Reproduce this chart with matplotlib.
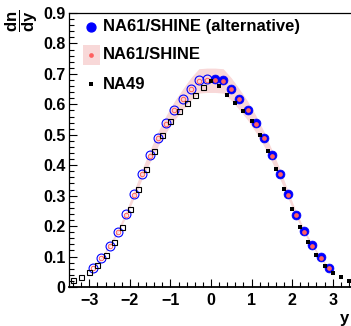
import matplotlib
matplotlib.use("Agg")
import matplotlib.pyplot as plt
from matplotlib.patches import Rectangle
from matplotlib.ticker import MultipleLocator

plt.rcParams['font.family'] = ['Liberation Sans', 'DejaVu Sans']
plt.rcParams['font.weight'] = 'bold'
plt.rcParams['mathtext.fontset'] = 'custom'
plt.rcParams['mathtext.rm'] = 'Liberation Sans:bold'
plt.rcParams['mathtext.it'] = 'Liberation Sans:bold'
plt.rcParams['mathtext.bf'] = 'Liberation Sans:bold'

# NA61/SHINE (alternative) - measured (y > 0) and reflected (y < 0)
alt_x = [0.1, 0.3, 0.5, 0.7, 0.9, 1.1, 1.3, 1.5, 1.7, 1.9, 2.1, 2.3, 2.5, 2.7, 2.9]
alt_y = [0.683, 0.679, 0.652, 0.617, 0.582, 0.538, 0.489, 0.432, 0.372, 0.304,
         0.238, 0.183, 0.137, 0.097, 0.063]
alt_refl_x = [-0.1, -0.3, -0.5, -0.7, -0.9, -1.1, -1.3, -1.5, -1.7, -1.9, -2.1, -2.3, -2.5, -2.7, -2.9]
alt_refl_y = [0.683, 0.679, 0.651, 0.617, 0.582, 0.538, 0.490, 0.432, 0.371, 0.305,
              0.239, 0.182, 0.136, 0.095, 0.063]

# NA61/SHINE (standard) with systematic band
std_x = alt_x
std_y = [0.679, 0.677, 0.650, 0.616, 0.580, 0.537, 0.488, 0.431, 0.371, 0.303,
         0.238, 0.182, 0.136, 0.096, 0.062]
std_refl_x = alt_refl_x
std_refl_y = [0.679, 0.677, 0.650, 0.616, 0.580, 0.537, 0.488, 0.431, 0.371, 0.303,
              0.238, 0.182, 0.136, 0.096, 0.062]
std_sys = [0.040, 0.040, 0.037, 0.034, 0.031, 0.028, 0.024, 0.020, 0.016, 0.012,
           0.009, 0.007, 0.005, 0.004, 0.003]

# NA49
na49_x = [0.0, 0.2, 0.4, 0.6, 0.8, 1.0, 1.2, 1.4, 1.6, 1.8, 2.0, 2.2, 2.4, 2.6, 2.8, 3.0, 3.2, 3.4]
na49_y = [0.675, 0.659, 0.632, 0.606, 0.579, 0.544, 0.500, 0.447, 0.388, 0.321,
          0.256, 0.198, 0.149, 0.105, 0.070, 0.047, 0.032, 0.021]
na49_refl_x = [-0.2, -0.4, -0.6, -0.8, -1.0, -1.2, -1.4, -1.6, -1.8, -2.0, -2.2, -2.4,
               -2.6, -2.8, -3.0, -3.2, -3.4]
na49_refl_y = [0.657, 0.632, 0.605, 0.579, 0.544, 0.500, 0.447, 0.388, 0.321, 0.256,
               0.198, 0.149, 0.105, 0.072, 0.048, 0.032, 0.023]

BLUE = '#0000ff'
RED = '#ff6060'
PINK = '#f8d8d8'

fig = plt.figure(figsize=(3.51, 3.26), dpi=100)
ax = fig.add_axes([69 / 351, 39 / 326, 284 / 351, 274 / 326])

# systematic band over full range (reflected + measured)
band_x = std_refl_x[::-1] + std_x
band_y = std_refl_y[::-1] + std_y
band_e = std_sys[::-1] + std_sys
ax.fill_between(band_x, [y - e for y, e in zip(band_y, band_e)],
                [y + e for y, e in zip(band_y, band_e)], color=PINK, lw=0, zorder=1)

# alternative: open for reflected, filled for measured
ax.plot(alt_refl_x, alt_refl_y, 'o', ms=6.4, mfc='none', mec=BLUE, mew=0.8, zorder=3)
ax.plot(alt_x, alt_y, 'o', ms=6.4, mfc=BLUE, mec=BLUE, mew=0.5, zorder=3)
# standard
ax.plot(std_refl_x, std_refl_y, 'o', ms=3.2, mfc='none', mec=RED, mew=0.7, zorder=4)
ax.plot(std_x, std_y, 'o', ms=3.4, mfc=RED, mec=RED, mew=0, zorder=4)
# NA49
ax.plot(na49_refl_x, na49_refl_y, 's', ms=3.6, mfc='none', mec='black', mew=0.8, zorder=5)
ax.plot(na49_x, na49_y, 's', ms=3.2, mfc='black', mec='black', mew=0, zorder=5)

ax.set_xlim(-3.5, 3.5)
ax.set_ylim(0, 0.9)
ax.xaxis.set_major_locator(MultipleLocator(1))
ax.xaxis.set_minor_locator(MultipleLocator(0.2))
ax.yaxis.set_minor_locator(MultipleLocator(0.02))
ax.set_yticks([0, 0.1, 0.2, 0.3, 0.4, 0.5, 0.6, 0.7, 0.8, 0.9])
ax.set_yticklabels(['0', '0.1', '0.2', '0.3', '0.4', '0.5', '0.6', '0.7', '0.8', '0.9'])
ax.tick_params(which='both', direction='in', top=False, right=False)
ax.tick_params(which='major', length=6, width=0.8, labelsize=11.5)
ax.tick_params(which='minor', length=3.5, width=0.8)
ax.tick_params(axis='x', which='major', pad=4.5)
ax.tick_params(axis='y', which='major', pad=2.5)
for lab in ax.get_xticklabels() + ax.get_yticklabels():
    lab.set_fontweight('bold')

ax.spines['right'].set_visible(False)
ax.spines['bottom'].set_linewidth(1.3)
ax.spines['left'].set_linewidth(0.9)
ax.spines['top'].set_linewidth(0.9)

# axis titles
fig.text(349 / 351, 1 - 319 / 326, 'y', ha='right', va='center', fontsize=12, fontweight='bold')
fig.text(22 / 351, 1 - 21 / 326, r'$\dfrac{dn}{dy}$', rotation=90, ha='center', va='center',
         fontsize=12)

# legend
leg_mx = 0.078
leg_tx = 0.120
rows = [0.950, 0.847, 0.740]
ax.add_patch(Rectangle((0.0506, 0.810), 0.059, 0.073, transform=ax.transAxes,
                       facecolor=PINK, edgecolor='none', zorder=6))
ax.plot([leg_mx], [rows[0]], 'o', ms=6.4, mfc=BLUE, mec=BLUE, transform=ax.transAxes,
        clip_on=False, zorder=7)
ax.plot([leg_mx], [rows[1]], 'o', ms=3.4, mfc=RED, mec=RED, mew=0, transform=ax.transAxes,
        clip_on=False, zorder=7)
ax.plot([leg_mx], [rows[2]], 's', ms=3.2, mfc='black', mec='black', mew=0,
        transform=ax.transAxes, clip_on=False, zorder=7)
labels = ['NA61/SHINE (alternative)', 'NA61/SHINE', 'NA49']
for r, t in zip(rows, labels):
    ax.text(leg_tx, r, t, transform=ax.transAxes, ha='left', va='center',
            fontsize=12, fontweight='bold', zorder=7)

fig.savefig('out.png', dpi=100)
